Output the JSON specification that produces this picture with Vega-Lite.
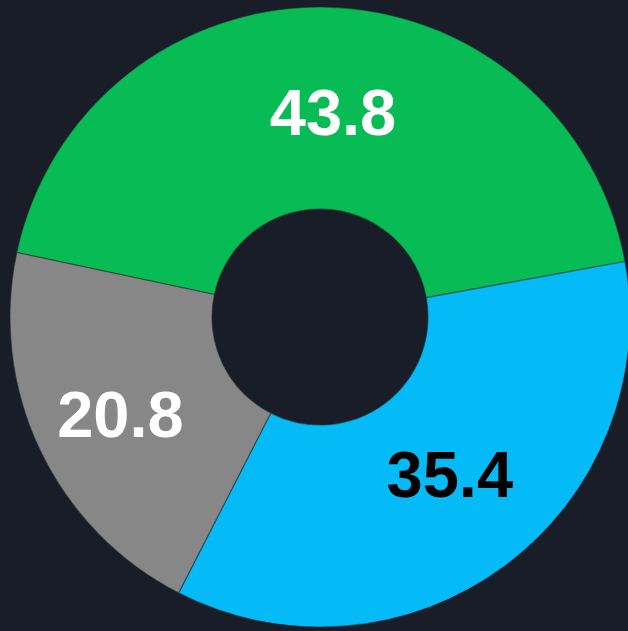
{
  "$schema": "https://vega.github.io/schema/vega-lite/v6.json",
  "autosize": {"type": "fit", "contains": "padding"},
  "width": 628,
  "height": 631,
  "padding": {"left": 12, "top": 3, "right": 0, "bottom": 0},
  "background": "#181d27",
  "config": {"view": {"stroke": null}},
  "data": {
    "values": [
      {"segment": "A", "value": 43.8, "rank": 1},
      {"segment": "B", "value": 35.4, "rank": 2},
      {"segment": "C", "value": 20.8, "rank": 3}
    ]
  },
  "encoding": {
    "theta": {"field": "value", "type": "quantitative", "stack": true,
      "scale": {"domain": [0, 100], "range": [4.922, 11.2052]}},
    "order": {"field": "rank", "type": "quantitative"}
  },
  "layer": [
    {
      "mark": {"type": "arc", "outerRadius": 310, "innerRadius": 108, "stroke": "#1d2a2a", "strokeWidth": 1.2, "strokeOpacity": 0.5},
      "encoding": {
        "color": {"field": "segment", "type": "nominal", "legend": null,
          "scale": {"domain": ["A", "B", "C"], "range": ["#07bb55", "#04bbf8", "#878787"]}}
      }
    },
    {
      "mark": {"type": "text", "radius": 201, "fontSize": 65, "fontWeight": "bold", "font": "Liberation Sans", "baseline": "middle", "align": "center", "dx": 10, "dy": -1},
      "encoding": {
        "text": {"condition": {"test": "datum.segment !== 'C'", "field": "value", "type": "quantitative", "format": ".1f"}, "value": ""},
        "color": {"condition": {"test": "datum.segment === 'B'", "value": "#000000"}, "value": "#ffffff"}
      }
    },
    {
      "mark": {"type": "text", "radius": 221, "fontSize": 65, "fontWeight": "bold", "font": "Liberation Sans", "baseline": "middle", "align": "center", "dy": 5, "color": "#ffffff"},
      "encoding": {
        "text": {"condition": {"test": "datum.segment === 'C'", "field": "value", "type": "quantitative", "format": ".1f"}, "value": ""}
      }
    }
  ]
}
